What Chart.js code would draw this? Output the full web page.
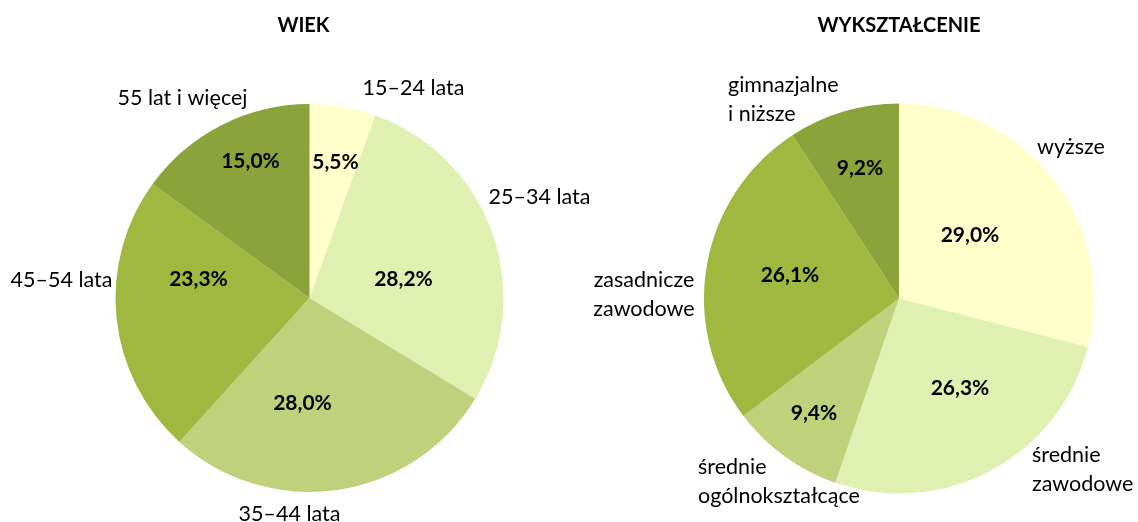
<!DOCTYPE html>
<html>
<head>
<meta charset="utf-8">
<script src="https://cdn.jsdelivr.net/npm/chart.js@4.4.0/dist/chart.umd.min.js"></script>
<style>
    body { margin: 0; background: #fff; }
    #wrap { position: relative; width: 1138px; height: 522px; }
    canvas { position: absolute; top: 0; left: 0; }
</style>
</head>
<body>
<div id="wrap">
    <canvas id="ageChart" width="1138" height="522"></canvas>
    <canvas id="eduChart" width="1138" height="522"></canvas>
</div>
<script>
// data
var ageTitle = 'WIEK';
var ageLabels = [['15–24 lata'], ['25–34 lata'], ['35–44 lata'], ['45–54 lata'], ['55 lat i więcej']];
var ageValues = [5.5, 28.2, 28.0, 23.3, 15.0];

var eduTitle = 'WYKSZTAŁCENIE';
var eduLabels = [['wyższe'], ['średnie', 'zawodowe'], ['średnie', 'ogólnokształcące'], ['zasadnicze', 'zawodowe'], ['gimnazjalne', 'i niższe']];
var eduValues = [29.0, 26.3, 9.4, 26.1, 9.2];

var greens = ['#FFFFCC', '#E0F0B0', '#C0D17C', '#A0B840', '#8BA33A'];

// label placement, relative to the pie centre (px)
var agePctPos = [[26, -136], [94, -19], [-7, 105], [-111, -19], [-59, -137]];
var ageCatPos = [[104, -210, 'center'], [230, -101, 'center'], [-20, 216, 'center'], [-248, -18, 'center'], [-127, -200, 'center']];
var eduPctPos = [[71, -63], [61, 90], [-85, 115], [-109, -23], [-39, -130]];
var eduCatPos = [[172, -151, 'center'], [133, 157, 'left'], [-201, 169, 'left'], [-255, -18, 'center'], [-171, -213, 'left']];

var pieLabels = {
    id: 'pieLabels',
    afterDatasetsDraw: function(chart, args, opts) {
        var ctx = chart.ctx;
        var arc = chart.getDatasetMeta(0).data[0];
        var cx = arc.x, cy = arc.y;
        var values = chart.data.datasets[0].data;
        ctx.save();
        ctx.fillStyle = '#000';
        ctx.textBaseline = 'middle';

        // title
        ctx.font = 'bold 20px Lato';
        ctx.textAlign = 'center';
        ctx.fillText(opts.title, cx + opts.titleShift, 26);

        // percentages
        ctx.font = 'bold 21px Lato';
        values.forEach(function(v, i) {
            var p = opts.pctPos[i];
            ctx.fillText(v.toFixed(1).replace('.', ',') + '%', cx + p[0], cy + p[1]);
        });

        // category names
        ctx.font = '21.5px Lato';
        chart.data.labels.forEach(function(lines, i) {
            var p = opts.catPos[i];
            ctx.textAlign = p[2];
            lines.forEach(function(line, j) {
                ctx.fillText(line, cx + p[0], cy + p[1] + j * 29);
            });
        });
        ctx.restore();
    }
};

function pieChart(canvasId, labels, values, padding, title, titleShift, pctPos, catPos) {
    var ctx = document.getElementById(canvasId).getContext('2d');
    return new Chart(ctx, {
        type: 'pie',
        data: {
            labels: labels,
            datasets: [{
                data: values,
                backgroundColor: greens,
                borderWidth: 0,
                hoverOffset: 0
            }]
        },
        options: {
            responsive: false,
            animation: false,
            events: [],
            layout: { padding: padding },
            plugins: {
                legend: { display: false },
                tooltip: { enabled: false },
                pieLabels: { title: title, titleShift: titleShift, pctPos: pctPos, catPos: catPos }
            }
        },
        plugins: [pieLabels]
    });
}

pieChart('ageChart', ageLabels, ageValues, { left: 115.5, right: 634.5, top: 104, bottom: 30 }, ageTitle, -6, agePctPos, ageCatPos);
pieChart('eduChart', eduLabels, eduValues, { left: 704, right: 44, top: 103.5, bottom: 28.5 }, eduTitle, 0, eduPctPos, eduCatPos);
</script>
</body>
</html>
